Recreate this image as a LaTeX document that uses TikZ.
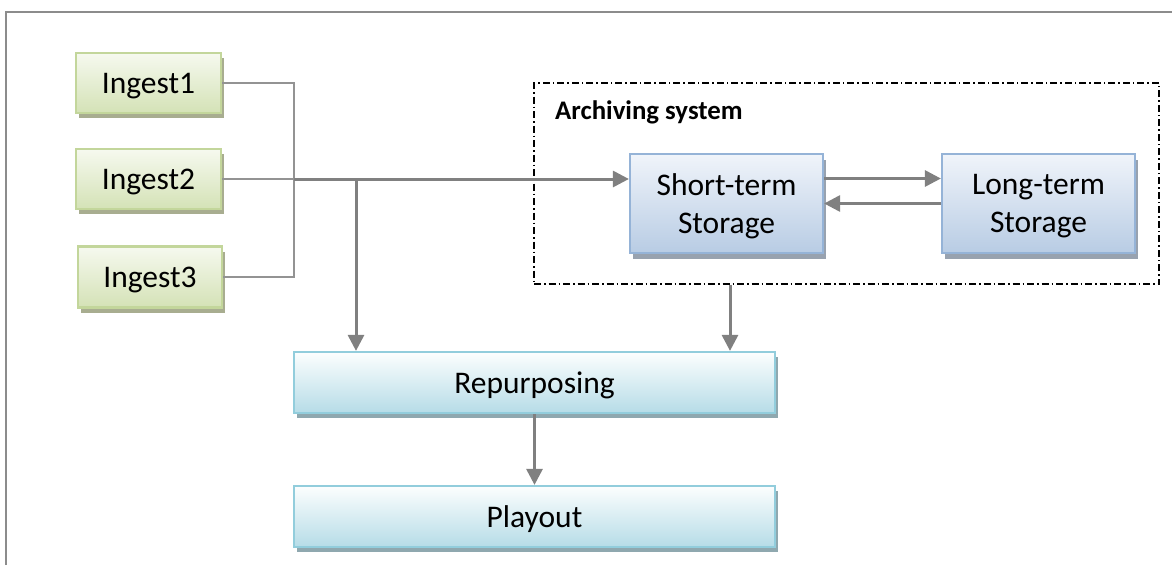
\documentclass[tikz,border=0pt]{standalone}
\usepackage{fontspec}
\setmainfont{Carlito}
\usetikzlibrary{arrows.meta,shadows}
\definecolor{framegray}{HTML}{8C8C8C}
\definecolor{thingray}{HTML}{939393}
\definecolor{arrgray}{HTML}{808080}
\definecolor{gborder}{HTML}{C3D69B}
\definecolor{gtop}{HTML}{F6F9EF}
\definecolor{gbot}{HTML}{D4E2B6}
\definecolor{gshadow}{HTML}{A8AD90}
\definecolor{bborder}{HTML}{95B3D7}
\definecolor{btop}{HTML}{F0F4FA}
\definecolor{bbot}{HTML}{B8CCE4}
\definecolor{bshadow}{HTML}{98A2AF}
\definecolor{cborder}{HTML}{92CDDC}
\definecolor{ctop}{HTML}{FCFEFE}
\definecolor{cbot}{HTML}{B6DCE7}
\definecolor{cshadow}{HTML}{8FA8AF}
\tikzset{
  boxtext/.style={font=\fontsize{31.5}{38}\selectfont, text=black, align=center, inner sep=0pt, text depth=-3pt},
  greenbox/.style={boxtext, draw=gborder, line width=2.2pt, top color=gtop, bottom color=gbot,
    drop shadow={shadow xshift=3pt, shadow yshift=-5pt, fill=gshadow, opacity=1}},
  bluebox/.style={boxtext, draw=bborder, line width=2.2pt, top color=btop, bottom color=bbot,
    drop shadow={shadow xshift=3pt, shadow yshift=-6pt, fill=bshadow, opacity=1}},
  cyanbox/.style={boxtext, draw=cborder, line width=2.2pt, top color=ctop, bottom color=cbot,
    drop shadow={shadow xshift=3pt, shadow yshift=-5pt, fill=cshadow, opacity=1}},
  thinline/.style={draw=thingray, line width=2.1pt},
  arrline/.style={draw=arrgray, line width=3pt, -{Triangle[length=16pt,width=16pt]}},
  archbox/.style={draw=black, line width=1.4pt, dash pattern=on 7pt off 3pt on 1.5pt off 3pt, inner sep=0pt},
}
\begin{document}
\begin{tikzpicture}[x=1pt,y=-1pt]
\useasboundingbox (0,0) rectangle (1172,565);
% outer frame
\draw[framegray, line width=2.4pt] (6,565) -- (6,12) -- (1172,12);
% archiving system box
\node[archbox, minimum width=625pt, minimum height=201pt] (arch) at (846.5,183.5) {};
\node[anchor=west, inner sep=0pt, font=\fontsize{26.8}{30}\selectfont\bfseries] (archlabel) at (555,112) {Archiving system};
% ingest boxes
\node[greenbox, minimum width=145pt, minimum height=60pt] (i1) at (148.5,83) {Ingest1};
\node[greenbox, minimum width=145pt, minimum height=60pt] (i2) at (148.5,179) {Ingest2};
\node[greenbox, minimum width=144pt, minimum height=61pt] (i3) at (150,277) {Ingest3};
% storage boxes
\node[bluebox, minimum width=193pt, minimum height=99pt] (st) at (726.5,203.5) {Short-term\\Storage};
\node[bluebox, minimum width=193pt, minimum height=99pt] (lt) at (1038.5,203.5) {Long-term\\Storage};
% bottom boxes
\node[cyanbox, minimum width=481pt, minimum height=61pt] (rep) at (534.5,382.5) {Repurposing};
\node[cyanbox, minimum width=481pt, minimum height=61pt] (play) at (534.5,516.5) {Playout};
% connectors
\coordinate (jx) at (294,179);
\coordinate (bx) at (356,179);
\draw[thinline] (i1.east) -| (jx) |- (i3.east);
\draw[thinline] (i2.east) -- (jx);
\draw[arrline] (jx) -- (st.west |- jx);
\draw[arrline] (bx) -- (bx |- rep.north);
\draw[arrline] ([yshift=25pt]st.east) -- ([yshift=25pt]lt.west);
\draw[arrline] (lt.west) -- (st.east);
\draw[arrline] ([xshift=-116.5pt]arch.south) -- ([xshift=-116.5pt]arch.south |- rep.north);
\draw[arrline] (rep.south) -- (play.north);
\end{tikzpicture}
\end{document}
